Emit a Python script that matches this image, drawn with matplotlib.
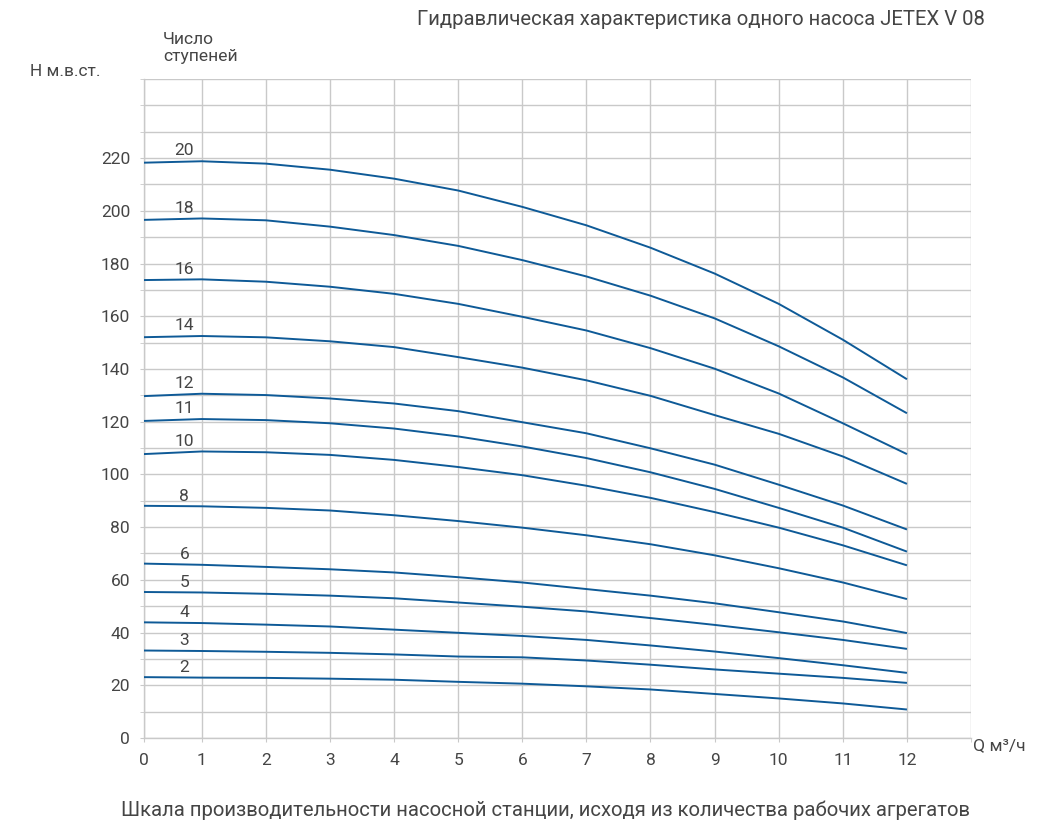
import numpy as np
import matplotlib
matplotlib.use("Agg")
import matplotlib.pyplot as plt

plt.rcParams['font.family'] = ['Roboto', 'DejaVu Sans']

# подача, м3/ч
q = [0, 1, 2, 3, 4, 5, 6, 7, 8, 9, 10, 11, 12]

# напор по числу ступеней, м
stages = [20, 18, 16, 14, 12, 11, 10, 8, 6, 5, 4, 3, 2]
h20 = [218.2, 218.8, 217.9, 215.6, 212.2, 207.7, 201.5, 194.5, 186.0, 176.2, 164.7, 151.1, 136.1]
h18 = [196.5, 197.1, 196.4, 194.0, 190.8, 186.7, 181.3, 175.1, 167.8, 159.2, 148.6, 136.8, 123.2]
h16 = [173.7, 174.0, 173.1, 171.2, 168.5, 164.7, 159.8, 154.6, 147.9, 140.1, 130.7, 119.4, 107.7]
h14 = [152.0, 152.5, 152.0, 150.5, 148.3, 144.5, 140.5, 135.7, 129.8, 122.5, 115.4, 106.8, 96.4]
h12 = [129.6, 130.6, 130.1, 128.8, 126.9, 124.0, 119.8, 115.6, 109.9, 103.7, 96.1, 88.2, 79.1]
h11 = [120.2, 121.0, 120.6, 119.4, 117.4, 114.4, 110.6, 106.2, 100.8, 94.5, 87.3, 79.8, 70.7]
h10 = [107.6, 108.7, 108.4, 107.4, 105.5, 102.8, 99.7, 95.7, 91.1, 85.7, 79.8, 73.1, 65.5]
h8 = [88.1, 87.9, 87.3, 86.3, 84.5, 82.3, 79.8, 76.9, 73.5, 69.3, 64.4, 59.0, 52.7]
h6 = [66.2, 65.7, 64.9, 64.0, 62.8, 61.0, 59.0, 56.5, 54.0, 51.1, 47.7, 44.2, 39.8]
h5 = [55.4, 55.2, 54.7, 54.0, 53.0, 51.4, 49.8, 48.0, 45.5, 42.9, 40.1, 37.2, 33.8]
h4 = [43.9, 43.6, 43.0, 42.3, 41.1, 39.9, 38.7, 37.2, 35.1, 32.8, 30.3, 27.6, 24.7]
h3 = [33.2, 33.0, 32.7, 32.3, 31.7, 30.9, 30.6, 29.4, 27.8, 26.0, 24.4, 22.8, 20.9]
h2 = [23.1, 22.9, 22.8, 22.5, 22.1, 21.3, 20.6, 19.6, 18.4, 16.7, 15.0, 13.1, 10.8]
curves = [h20, h18, h16, h14, h12, h11, h10, h8, h6, h5, h4, h3, h2]

x_ticks = list(range(13))
y_ticks = list(range(0, 221, 20))

text_col = '#454545'
grid_col = '#c9c9c9'
line_col = '#0e5a97'

fig = plt.figure(figsize=(10.39, 8.24), dpi=100)
ax = fig.add_axes([0.1386, 0.1044, 0.796, 0.7997])

for n, h in zip(stages, curves):
    ax.plot(q, h, color=line_col, lw=1.4, solid_capstyle='butt', zorder=3)
    ax.annotate(str(n), xy=(0.73, h[1]), xytext=(0, 2), textcoords='offset points',
                ha='center', va='bottom', fontsize=12.5, color=text_col)

ax.set_xlim(0.1, 13)
ax.set_ylim(0, 250)
ax.set_xticks([0.1] + x_ticks[1:])
ax.set_xticklabels([str(v) for v in x_ticks])
ax.set_xticks(range(1, 14), minor=True)
ax.set_yticks(y_ticks)
ax.set_yticks(range(10, 251, 10), minor=True)
ax.grid(True, which='both', color=grid_col, lw=1.0)
ax.tick_params(which='both', length=3, color=grid_col, labelsize=12.5, labelcolor=text_col)
ax.tick_params(axis='x', which='major', pad=8)
ax.tick_params(axis='y', which='major', pad=7)
for s in ['top', 'right']:
    ax.spines[s].set_visible(False)
for s in ['left', 'bottom']:
    ax.spines[s].set_color(grid_col)
    ax.spines[s].set_linewidth(1.0)
ax.set_axisbelow(True)

fig.text(0.948, 0.976, 'Гидравлическая характеристика одного насоса JETEX V 08',
         ha='right', va='center', fontsize=14.6, color=text_col)
fig.text(0.029, 0.913, 'H м.в.ст.', ha='left', va='center', fontsize=12.4, color=text_col)
fig.text(0.157, 0.942, 'Число\nступеней', ha='left', va='center', fontsize=12.6,
         color=text_col, linespacing=1.2)
fig.text(0.9365, 0.0947, 'Q м³/ч', ha='left', va='center', fontsize=12.6, color=text_col)
fig.text(0.5255, 0.017, 'Шкала производительности насосной станции, исходя из количества рабочих агрегатов',
         ha='center', va='center', fontsize=14.6, color=text_col)

fig.savefig('out.png', dpi=100)
